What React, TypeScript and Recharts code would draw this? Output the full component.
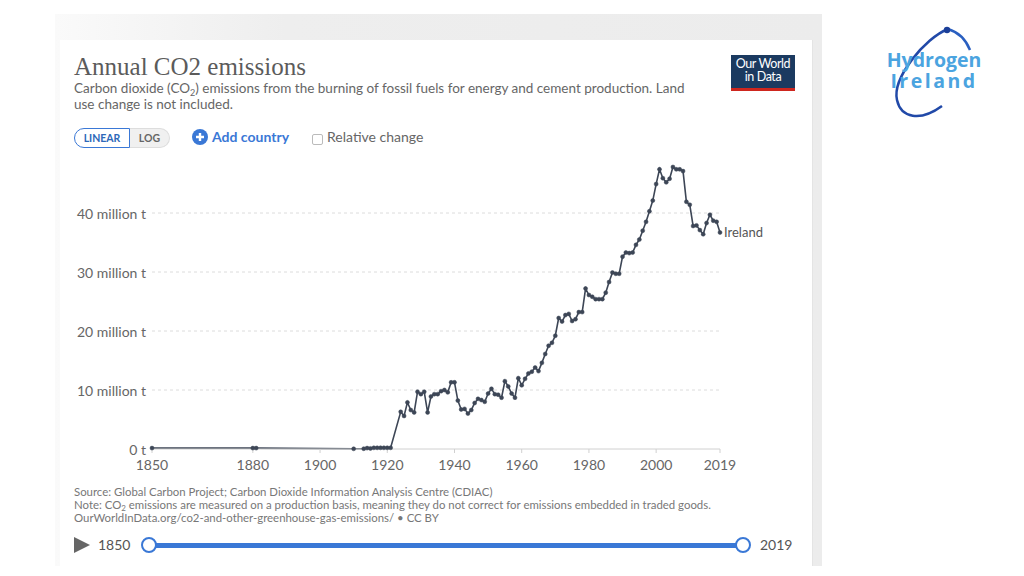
import { Line, LineChart, ReferenceLine, XAxis, YAxis } from 'recharts';

// Ireland, annual CO2 emissions (million tonnes)
const years = [
  1850, 1880, 1881, 1910, 1913, 1914, 1915, 1916, 1917, 1918, 1919, 1920, 1921,
  1924, 1925, 1926, 1927, 1928, 1929, 1930, 1931, 1932, 1933, 1934, 1935, 1936,
  1937, 1938, 1939, 1940, 1941, 1942, 1943, 1944, 1945, 1946, 1947, 1948, 1949,
  1950, 1951, 1952, 1953, 1954, 1955, 1956, 1957, 1958, 1959, 1960, 1961, 1962,
  1963, 1964, 1965, 1966, 1967, 1968, 1969, 1970, 1971, 1972, 1973, 1974, 1975,
  1976, 1977, 1978, 1979, 1980, 1981, 1982, 1983, 1984, 1985, 1986, 1987, 1988,
  1989, 1990, 1991, 1992, 1993, 1994, 1995, 1996, 1997, 1998, 1999, 2000, 2001,
  2002, 2003, 2004, 2005, 2006, 2007, 2008, 2009, 2010, 2011, 2012, 2013, 2014,
  2015, 2016, 2017, 2018, 2019,
];

const emissions = [
  0.15, 0.15, 0.15, 0.03, 0.05, 0.15, 0.1, 0.2, 0.2, 0.2, 0.2, 0.2, 0.2,
  6.3, 5.6, 7.9, 6.6, 6.2, 9.7, 9.3, 9.7, 6.2, 8.9, 9.3, 9.3, 9.8,
  10.0, 9.6, 11.3, 11.3, 8.2, 6.7, 6.8, 6.0, 6.6, 7.8, 8.5, 8.3, 8.0,
  9.4, 10.2, 9.3, 9.2, 8.7, 11.5, 10.6, 9.4, 8.7, 12.0, 10.8, 11.9, 12.8,
  13.1, 13.8, 13.2, 14.6, 16.1, 17.5, 18.0, 19.2, 22.2, 21.6, 22.7, 22.9, 21.7,
  22.0, 23.2, 23.2, 27.2, 26.1, 25.8, 25.4, 25.4, 25.4, 26.5, 28.3, 29.9, 29.7,
  29.7, 32.6, 33.3, 33.2, 33.3, 34.6, 35.5, 37.0, 38.5, 40.3, 42.1, 44.9, 47.4,
  45.9, 45.2, 45.8, 47.8, 47.4, 47.4, 47.1, 41.9, 41.4, 37.8, 37.9, 37.1, 36.4,
  38.3, 39.7, 38.7, 38.5, 36.7,
];

const xTicks = [1850, 1880, 1900, 1920, 1940, 1960, 1980, 2000, 2019];
const yTicks = [0, 10, 20, 30, 40];
const entityName = 'Ireland';

const data = years.map((year, i) => ({ year, co2: emissions[i] }));

const LINE = '#3d4656';
const BLUE = '#3a78d6';
const FONT = 'Lato, "Open Sans", sans-serif';

const pos = (left: number, top: number, extra: any = {}) => ({
  position: 'absolute' as const,
  left,
  top,
  ...extra,
});

const YTick = ({ x, y, payload }: any) => (
  <text x={x} y={y} textAnchor="end" dominantBaseline="central" fontSize={14} fill="#666" fontFamily={FONT}>
    {payload.value === 0 ? '0 t' : `${payload.value} million t`}
  </text>
);

const XTick = ({ x, y, payload }: any) => (
  <text x={x} y={y + 9} textAnchor="middle" dominantBaseline="central" fontSize={14} fill="#666" fontFamily={FONT}>
    {payload.value}
  </text>
);

const EndLabel = ({ x, y, index }: any) => {
  if (index !== data.length - 1) return null;
  return (
    <text x={x + 4} y={y} dominantBaseline="central" fontSize={13} fill="#555" fontFamily={FONT}>
      {entityName}
    </text>
  );
};

export default function App() {
  return (
    <div style={pos(0, 0, { width: 1024, height: 576, background: '#fff', overflow: 'hidden', fontFamily: FONT })}>
      {/* grey frame + white card */}
      <div style={pos(55, 14, { width: 767, height: 552, background: 'linear-gradient(90deg, #fafafa 0%, #eeeeee 30%, #ececec 100%)' })} />
      <div style={pos(60, 40, { width: 752, height: 526, background: '#fff', borderRight: '1px solid #e4e4e4' })} />

      {/* header */}
      <div style={pos(74, 52, { fontFamily: '"Liberation Serif", serif', fontSize: 25, lineHeight: '30px', color: '#5b5b5b', whiteSpace: 'nowrap' })}>
        Annual CO2 emissions
      </div>
      <div style={pos(74, 81, { width: 660, fontSize: 13.5, lineHeight: '14px', color: '#666', whiteSpace: 'nowrap' })}>
        Carbon dioxide (CO<span style={{ fontSize: 9, position: 'relative', top: 3 }}>2</span>) emissions from the burning of fossil fuels for energy and cement production. Land
        <br />
        use change is not included.
      </div>

      {/* OWID logo */}
      <div style={pos(731, 55, { width: 64, height: 31, background: '#1b3a60', borderBottom: '3px solid #ce261e', color: '#fff', fontSize: 12.5, lineHeight: '13px', textAlign: 'center', letterSpacing: -0.4, paddingTop: 2, boxSizing: 'content-box' })}>
        Our World
        <br />
        in Data
      </div>

      {/* controls */}
      <div style={pos(74, 128, { display: 'flex', height: 20, fontSize: 10.5, fontWeight: 700, lineHeight: '18px' })}>
        <div style={{ width: 54, textAlign: 'center', border: `1px solid ${BLUE}`, borderRadius: '10px 0 0 10px', color: '#2d68b8', background: '#fff' }}>LINEAR</div>
        <div style={{ width: 39, textAlign: 'center', border: '1px solid #ddd', borderLeft: 'none', borderRadius: '0 10px 10px 0', color: '#666', background: '#f0f0f0' }}>LOG</div>
      </div>
      <svg style={pos(192, 129)} width={16} height={16}>
        <circle cx={8} cy={8} r={8} fill={BLUE} />
        <path d="M8 4 V12 M4 8 H12" stroke="#fff" strokeWidth={2.4} />
      </svg>
      <div style={pos(212, 129, { fontSize: 14, fontWeight: 700, color: BLUE, lineHeight: '16px' })}>Add country</div>
      <div style={pos(312, 134, { width: 9, height: 9, border: '1px solid #bbb', borderRadius: 2, background: '#fff' })} />
      <div style={pos(327, 129, { fontSize: 14, color: '#666', lineHeight: '16px' })}>Relative change</div>

      {/* chart */}
      <div style={pos(60, 140)}>
        <LineChart width={740} height={340} data={data} margin={{ top: 14, right: 80, bottom: 6, left: 0 }}>
          <XAxis
            dataKey="year"
            type="number"
            domain={[1850, 2019]}
            ticks={xTicks}
            height={25}
            axisLine={{ stroke: '#d0d0d0' }}
            tickLine={{ stroke: '#d0d0d0' }}
            tickSize={4}
            tick={<XTick />}
            interval={0}
          />
          <YAxis
            type="number"
            domain={[0, 50]}
            ticks={yTicks}
            width={92}
            axisLine={false}
            tickLine={false}
            tickSize={0}
            tickMargin={6}
            tick={<YTick />}
            interval={0}
          />
          {yTicks.slice(1).map((t) => (
            <ReferenceLine key={t} y={t} stroke="#dcdcdc" strokeDasharray="3 3" />
          ))}
          <Line
            type="linear"
            dataKey="co2"
            stroke={LINE}
            strokeWidth={1.6}
            dot={{ r: 2, fill: LINE, stroke: LINE, strokeWidth: 0.5 }}
            label={<EndLabel />}
            isAnimationActive={false}
          />
        </LineChart>
      </div>

      {/* footer */}
      <div style={pos(74, 486, { fontSize: 11.4, lineHeight: '12.5px', color: '#777', whiteSpace: 'nowrap' })}>
        Source: Global Carbon Project; Carbon Dioxide Information Analysis Centre (CDIAC)
        <br />
        Note: CO<span style={{ fontSize: 8, position: 'relative', top: 2 }}>2</span> emissions are measured on a production basis, meaning they do not correct for emissions embedded in traded goods.
        <br />
        OurWorldInData.org/co2-and-other-greenhouse-gas-emissions/ • CC BY
      </div>

      {/* timeline */}
      <svg style={pos(60, 530)} width={760} height={32}>
        <polygon points="14,7 30,15 14,23" fill="#666" />
        <rect x={89} y={13} width={594} height={5} fill={BLUE} />
        <circle cx={89} cy={15} r={7} fill="#fff" stroke={BLUE} strokeWidth={2} />
        <circle cx={683} cy={15} r={7} fill="#fff" stroke={BLUE} strokeWidth={2} />
      </svg>
      <div style={pos(98, 537, { fontSize: 14, color: '#555', lineHeight: '16px' })}>1850</div>
      <div style={pos(760, 537, { fontSize: 14, color: '#555', lineHeight: '16px' })}>2019</div>

      {/* Hydrogen Ireland logo */}
      <svg style={pos(870, 20)} width={130} height={110}>
        <path d="M78 9 C55 18, 22 58, 27 80 C31 98, 50 102, 72 86" fill="none" stroke="#2149a8" strokeWidth={2.5} />
        <path d="M78 9 C88 12, 96 20, 100 30" fill="none" stroke="#2a5fc0" strokeWidth={2.5} />
        <circle cx={77} cy={10} r={3.2} fill="#1b3f99" />
      </svg>
      <div style={pos(872, 50, { width: 124, textAlign: 'center', fontFamily: '"Open Sans", sans-serif', fontWeight: 700, fontSize: 19.5, lineHeight: '20px', color: '#4ba4e0' })}>
        Hydrogen
      </div>
      <div style={pos(872, 71, { width: 124, textAlign: 'center', fontFamily: '"Open Sans", sans-serif', fontWeight: 700, fontSize: 19.5, lineHeight: '20px', color: '#4ba4e0', letterSpacing: 2.5 })}>
        Ireland
      </div>
    </div>
  );
}
